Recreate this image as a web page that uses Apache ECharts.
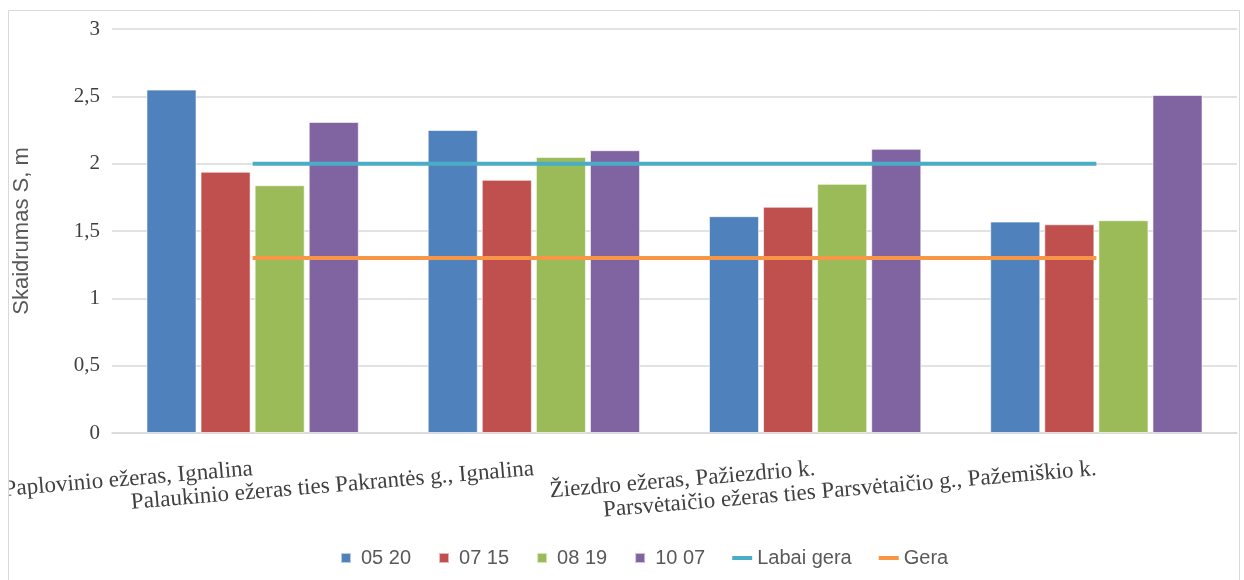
<!DOCTYPE html>
<html>
<head>
<meta charset="utf-8">
<script src="https://cdn.jsdelivr.net/npm/echarts@6/dist/echarts.min.js"></script>
<style>
  html, body { margin: 0; padding: 0; background: #fff; }
  #chart { width: 1244px; height: 580px; }
</style>
</head>
<body>
<div id="chart"></div>
<script>
const categories = [
  'Paplovinio ežeras, Ignalina',
  'Palaukinio ežeras ties Pakrantės g., Ignalina',
  'Žiezdro ežeras, Pažiezdrio k.',
  'Parsvėtaičio ežeras ties Parsvėtaičio g., Pažemiškio k.'
];
const seriesNames = ['05 20', '07 15', '08 19', '10 07'];
const values0520 = [2.55, 2.25, 1.61, 1.57];
const values0715 = [1.94, 1.88, 1.68, 1.55];
const values0819 = [1.84, 2.05, 1.85, 1.58];
const values1007 = [2.31, 2.10, 2.11, 2.51];
const labaiGera = [2, 2, 2, 2];
const gera = [1.3, 1.3, 1.3, 1.3];

const barColors = ['#4f81bd', '#c0504d', '#9bbb59', '#8064a2'];
const serif = '"Liberation Serif", "DejaVu Serif", serif';
const sans = '"Liberation Sans", "Noto Sans", sans-serif';

const chart = echarts.init(document.getElementById('chart'));

const barValues = [values0520, values0715, values0819, values1007];
const barSeries = seriesNames.map((name, i) => ({
  name: name,
  type: 'bar',
  data: barValues[i],
  barGap: '8%',
  barCategoryGap: '24.5%',
  itemStyle: { color: barColors[i], borderColor: 'rgba(255,255,255,0.6)', borderWidth: 1 }
}));

const option = {
  animation: false,
  graphic: [
    {
      type: 'rect',
      shape: { x: 8.5, y: 10.5, width: 1231, height: 580 },
      style: { fill: 'none', stroke: '#d9d9d9', lineWidth: 1 },
      z: 100
    },
    {
      // the first label runs past the chart frame, so hide what is outside
      type: 'rect',
      shape: { x: 0, y: 0, width: 8, height: 580 },
      style: { fill: '#fff' },
      z: 99
    }
  ],
  grid: { left: 112, right: 7, top: 29, bottom: 147, containLabel: false, outerBoundsMode: 'none' },
  legend: {
    bottom: 7,
    left: 335,
    itemGap: 27,
    itemWidth: 20,
    itemHeight: 10,
    textStyle: { fontFamily: sans, fontSize: 20, color: '#595959' },
    data: seriesNames.map(n => ({ name: n, icon: 'path://M0,0H1V1H0Z' }))
      .concat([
        { name: 'Labai gera', icon: 'path://M0,0H5V1H0Z' },
        { name: 'Gera', icon: 'path://M0,0H5V1H0Z' }
      ])
  },
  xAxis: {
    type: 'category',
    data: categories,
    axisLine: { lineStyle: { color: '#d9d9d9', width: 1.5 } },
    axisTick: { show: false },
    axisLabel: {
      interval: 0,
      rotate: 4.8,
      margin: 36,
      fontFamily: serif,
      fontSize: 23,
      color: '#404040'
    }
  },
  yAxis: {
    type: 'value',
    min: 0,
    max: 3,
    interval: 0.5,
    name: 'Skaidrumas S, m',
    nameLocation: 'middle',
    nameGap: 79,
    nameTextStyle: { fontFamily: sans, fontSize: 22, color: '#595959' },
    axisLine: { show: false },
    axisTick: { show: false },
    axisLabel: {
      margin: 12,
      fontFamily: serif,
      fontSize: 21,
      color: '#404040',
      formatter: v => String(v).replace('.', ',')
    },
    splitLine: { lineStyle: { color: '#d9d9d9', width: 1.5 } }
  },
  series: barSeries.concat([
    {
      name: 'Labai gera',
      type: 'line',
      data: labaiGera,
      symbol: 'none',
      lineStyle: { color: '#4bacc6', width: 4 },
      itemStyle: { color: '#4bacc6' },
      z: 5
    },
    {
      name: 'Gera',
      type: 'line',
      data: gera,
      symbol: 'none',
      lineStyle: { color: '#f79646', width: 4 },
      itemStyle: { color: '#f79646' },
      z: 5
    }
  ])
};

chart.setOption(option);
</script>
</body>
</html>
